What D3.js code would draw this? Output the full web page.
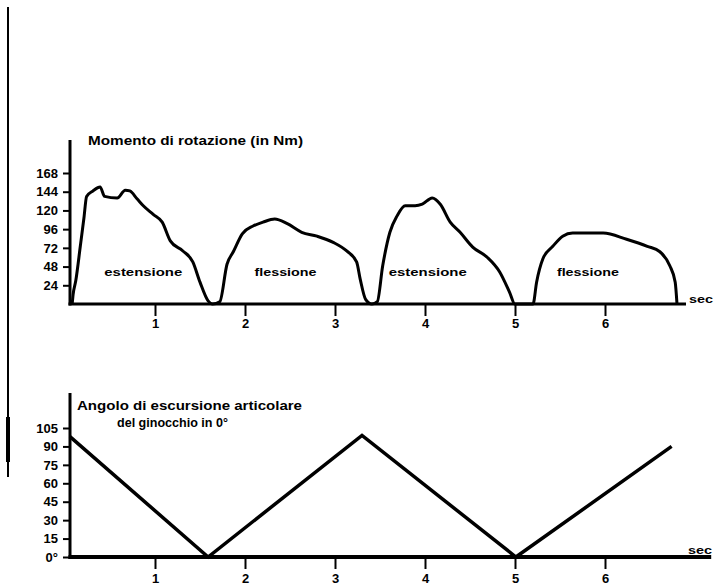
<!DOCTYPE html>
<html>
<head>
<meta charset="utf-8">
<script src="https://cdn.jsdelivr.net/npm/d3@7"></script>
<style>
  body{margin:0;background:#fff;}
  svg{display:block;}
  text{font-family:"Liberation Sans",Arial,sans-serif;font-weight:700;fill:#000;}
</style>
</head>
<body>
<div id="chart"></div>
<script>
"use strict";
// momento di rotazione (sec, Nm)
const momentData = [
  [0.08,0],[0.09,12],[0.12,30],[0.17,74],[0.21,110],[0.24,138],[0.31,145],[0.39,150],[0.44,138],
  [0.58,136],[0.67,146],[0.72,145],[0.80,135],[0.87,126],[0.98,115],[1.08,105],[1.17,81],
  [1.31,68],[1.42,54],[1.50,28],[1.59,4],[1.64,0],
  [1.72,3],[1.80,51],[1.87,67],[1.97,90],[2.09,100],[2.20,105],[2.33,109],[2.47,103],[2.63,92],
  [2.80,87],[2.98,79],[3.13,68],[3.24,54],[3.28,32],[3.34,6],[3.41,0],
  [3.47,3],[3.53,49],[3.61,92],[3.69,113],[3.78,126],[3.89,126],[3.97,128],[4.08,136],[4.17,128],
  [4.28,105],[4.39,92],[4.53,73],[4.69,60],[4.83,41],[4.94,15],[5.00,0],
  [5.20,0],[5.24,28],[5.31,58],[5.42,74],[5.53,87],[5.64,91],[5.98,91],[6.24,83],[6.47,74],
  [6.61,67],[6.72,49],[6.78,28],[6.80,0]
];
// angolo del ginocchio (sec, gradi)
const angleData = [[0.055,98],[1.59,0],[3.30,99],[5.01,0],[6.74,90]];
const momentTicks = [24,48,72,96,120,144,168];
const angleTicks = [0,15,30,45,60,75,90,105];
const secMajor = [1,2,3,4,5,6];
const secMinor = d3.range(1,35).map((i)=>+(i*0.2).toFixed(1));
const phaseLabels = [["estensione",0.87],["flessione",2.45],["estensione",4.03],["flessione",5.81]];

const W = 724, H = 588;
const svg = d3.select("#chart").append("svg").attr("width",W).attr("height",H);

// bordo di pagina della scansione
svg.append("line").attr("x1",8).attr("x2",8).attr("y1",7).attr("y2",477).attr("stroke","#000").attr("stroke-width",2);
svg.append("line").attr("x1",8).attr("x2",8).attr("y1",417).attr("y2",462).attr("stroke","#000").attr("stroke-width",4);

const x = d3.scaleLinear().domain([0,7]).range([65,695]);

function panel(y, yTicks, fmt, yTop, xEnd, axisW, tickLblY, secX, secY){
  const g = svg.append("g");
  // assi
  g.append("line").attr("x1",70).attr("x2",70).attr("y1",yTop).attr("y2",y(0)+axisW/2).attr("stroke","#000").attr("stroke-width",3);
  g.append("line").attr("x1",68.5).attr("x2",x(xEnd)).attr("y1",y(0)).attr("y2",y(0)).attr("stroke","#000").attr("stroke-width",axisW);
  // tacche x
  const xg = g.append("g").attr("transform",`translate(0,${y(0)})`);
  xg.call(d3.axisBottom(x).tickValues(secMinor.filter((v)=>!secMajor.includes(v))).tickSize(6).tickFormat(""));
  xg.call(d3.axisBottom(x).tickValues(secMajor).tickSize(12).tickFormat(d3.format("d")));
  xg.select(".domain").remove();
  xg.selectAll("line").attr("stroke","#000").attr("stroke-width",2);
  xg.selectAll("text").attr("y",tickLblY).attr("font-size",13).attr("font-family","Liberation Sans, Arial, sans-serif").attr("font-weight",700);
  // tacche y
  const yg = g.append("g").attr("transform","translate(70,0)");
  yg.call(d3.axisLeft(y).tickValues(yTicks).tickSize(7).tickFormat(fmt));
  yg.select(".domain").remove();
  yg.selectAll("line").attr("stroke","#000").attr("stroke-width",2);
  yg.selectAll("text").attr("x",-12).attr("font-size",13).attr("font-family","Liberation Sans, Arial, sans-serif").attr("font-weight",700);
  // sec
  g.append("text").attr("x",secX).attr("y",secY).attr("font-size",11).attr("textLength",24).attr("lengthAdjust","spacingAndGlyphs").text("sec");
  return g;
}

// --- pannello superiore: momento di rotazione
const yM = d3.scaleLinear().domain([0,168]).range([304,173]);
const gM = panel(yM, momentTicks, d3.format("d"), 140, 6.9, 3, 15, 689, 303);
gM.append("path").datum(momentData)
  .attr("d", d3.line().x((d)=>x(d[0])).y((d)=>yM(d[1])).curve(d3.curveMonotoneX))
  .attr("fill","none").attr("stroke","#000").attr("stroke-width",3).attr("stroke-linejoin","round");
gM.append("text").attr("x",88).attr("y",145).attr("font-size",12).attr("textLength",215).attr("lengthAdjust","spacingAndGlyphs").text("Momento di rotazione (in Nm)");
gM.selectAll("text.phase").data(phaseLabels).join("text").attr("class","phase")
  .attr("x",(d)=>x(d[1])).attr("y",276).attr("text-anchor","middle").attr("font-size",11)
  .attr("textLength",(d)=>d[0]==="estensione"?78:62).attr("lengthAdjust","spacingAndGlyphs").text((d)=>d[0]);

// --- pannello inferiore: angolo
const yA = d3.scaleLinear().domain([0,105]).range([557,428]);
const gA = panel(yA, angleTicks, (d)=>d===0?"0°":d, 393, 7.18, 4, 17, 688, 554);
gA.append("path").datum(angleData)
  .attr("d", d3.line().x((d)=>x(d[0])).y((d)=>yA(d[1])))
  .attr("fill","none").attr("stroke","#000").attr("stroke-width",3.5);
gA.append("text").attr("x",77).attr("y",410).attr("font-size",12).attr("textLength",225).attr("lengthAdjust","spacingAndGlyphs").text("Angolo di escursione articolare");
gA.append("text").attr("x",117).attr("y",427).attr("font-size",12).attr("textLength",111).attr("lengthAdjust","spacingAndGlyphs").text("del ginocchio in 0°");
</script>
</body>
</html>
